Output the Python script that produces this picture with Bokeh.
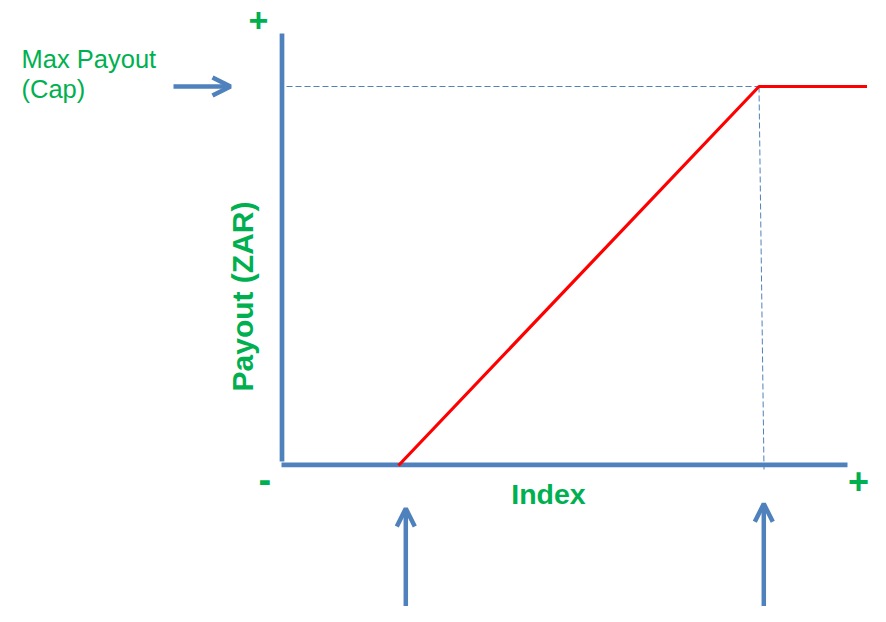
import math
from bokeh.plotting import figure
from bokeh.models import Range1d, Arrow, OpenHead, Label
from bokeh.embed import file_html
from bokeh.resources import INLINE

# Diagram coordinates (pixels, y downward)
origin_x = 281.5
origin_y = 464.3
y_axis_top = 33
x_axis_end = 847

# Payout curve: zero until attachment, linear up to exhaustion, flat at cap
payout_x = [398.0, 758.5, 866.5]
payout_y = [465.0, 86.0, 86.0]
cap_y = 86.0

dash_h_x = [286.0, 758.5]
dash_v_x = [758.5, 763.5]
dash_v_y = [86.0, 469.0]

# arrows
cap_arrow_x = [173.0, 230.0]
trigger_x = [405.3, 763.3]
trigger_tail_y = [621.7, 615.0]
trigger_tip_y = [508.0, 503.3]

GREEN = "#00B050"
BLUE = "#4F81BD"
RED = "#FF0000"
FONT = "Liberation Sans"

p = figure(width=870, height=606, output_backend="svg", toolbar_location=None,
           x_range=Range1d(0, 870), y_range=Range1d(606, 0),
           x_axis_location=None, y_axis_location=None, min_border=0)
p.grid.visible = False
p.outline_line_color = None
p.background_fill_color = "white"

# axes
p.line([origin_x, origin_x], [y_axis_top, origin_y - 3.3], line_color=BLUE, line_width=4.7, line_cap="butt")
p.line([origin_x - 0.5, x_axis_end], [origin_y, origin_y], line_color=BLUE, line_width=4.7, line_cap="butt")

# dashed guides
p.line(dash_h_x, [cap_y, cap_y], line_color=BLUE, line_width=1, line_dash="6 3")
p.line(dash_v_x, dash_v_y, line_color=BLUE, line_width=1, line_dash="6 3")

# payout curve
p.line(payout_x, payout_y, line_color=RED, line_width=3.2)

# arrows
p.add_layout(Arrow(end=OpenHead(size=18, line_color=BLUE, line_width=4.5),
                   x_start=cap_arrow_x[0], y_start=cap_y, x_end=cap_arrow_x[1], y_end=cap_y,
                   line_color=BLUE, line_width=4.5))
for xi, ys, ye in zip(trigger_x, trigger_tail_y, trigger_tip_y):
    p.add_layout(Arrow(end=OpenHead(size=18, line_color=BLUE, line_width=4.5),
                       x_start=xi, y_start=ys, x_end=xi, y_end=ye,
                       line_color=BLUE, line_width=4.5))

def lab(x, y, t, size, bold=False, align="left", baseline="alphabetic", angle=0):
    p.add_layout(Label(x=x, y=y, text=t, text_font=FONT, text_font_size=size,
                       text_font_style="bold" if bold else "normal",
                       text_color=GREEN, text_align=align, text_baseline=baseline,
                       angle=angle))

lab(21, 58, "Max Payout", "25.5px")
lab(21, 88, "(Cap)", "25.5px")
lab(548, 493, "Index", "28.5px", bold=True, align="center")
lab(242, 296, "Payout (ZAR)", "30px", bold=True, align="center", angle=math.pi / 2)
lab(258, 19.5, "+", "34px", bold=True, align="center", baseline="middle")
lab(858, 480, "+", "36px", bold=True, align="center", baseline="middle")
lab(264.3, 478.5, "-", "38px", bold=True, align="center", baseline="middle")

open("out.html", "w").write(file_html(p, INLINE))
